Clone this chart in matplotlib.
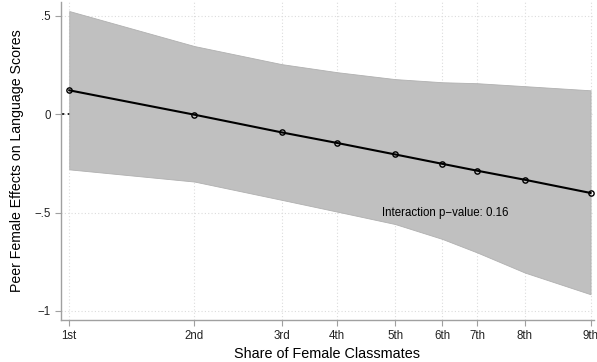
import matplotlib
matplotlib.use("Agg")
import matplotlib.pyplot as plt

plt.rcParams['font.family'] = ['Liberation Sans', 'DejaVu Sans']

tick_labels = ["1st", "2nd", "3rd", "4th", "5th", "6th", "7th", "8th", "9th"]
share = [38.0, 43.76, 47.78, 50.34, 53.0, 55.18, 56.79, 58.98, 62.0]
effect = [0.122, -0.002, -0.092, -0.146, -0.204, -0.252, -0.287, -0.333, -0.400]
upper = [0.525, 0.347, 0.255, 0.214, 0.179, 0.163, 0.158, 0.143, 0.122]
lower = [-0.28, -0.342, -0.435, -0.495, -0.558, -0.634, -0.703, -0.805, -0.915]
yticks = [0.5, 0, -0.5, -1]
ytick_labels = [".5", "0", "\u2212.5", "\u22121"]

fig = plt.figure(figsize=(5.97, 3.62), dpi=100)
ax = fig.add_axes([61/597, 1-320/362, (594-61)/597, (320-2)/362])

ax.set_xlim(37.62, 62.16)
ax.set_ylim(-1.046, 0.571)

for t in share:
    ax.axvline(t, color='#dcdcdc', lw=0.8, ls=(0, (1, 2)), zorder=0)
for t in yticks:
    ax.axhline(t, color='#dcdcdc', lw=0.8, ls=(0, (1, 2)), zorder=0)

ax.axhline(0, color='black', lw=1.2, ls=(0, (2, 2)), zorder=1)
ax.fill_between(share, lower, upper, facecolor='#c0c0c0', edgecolor='#b0b0b0', lw=0.6, zorder=2)
ax.plot(share, effect, color='black', lw=1.5, marker='o', markersize=3.8,
        markerfacecolor='none', markeredgecolor='black', markeredgewidth=1.0, zorder=3)

ax.text(52.4, -0.5, "Interaction p\u2212value: 0.16",
        fontsize=8.3, ha='left', va='center', zorder=4)

for s in ['top', 'right']:
    ax.spines[s].set_visible(False)
for s in ['left', 'bottom']:
    ax.spines[s].set_color('#a0a0a0')
    ax.spines[s].set_linewidth(1.0)

ax.set_xticks(share)
ax.set_xticklabels(tick_labels, fontsize=8.3)
ax.set_yticks(yticks)
ax.set_yticklabels(ytick_labels, fontsize=8.3)
ax.tick_params(axis='both', colors='#a0a0a0', labelcolor='#222222', length=4, width=0.8)

ax.set_xlabel("Share of Female Classmates", fontsize=10.4, labelpad=3)
ax.set_ylabel("Peer Female Effects on Language Scores", fontsize=10.2, labelpad=7)

fig.savefig("out.png", dpi=100)
